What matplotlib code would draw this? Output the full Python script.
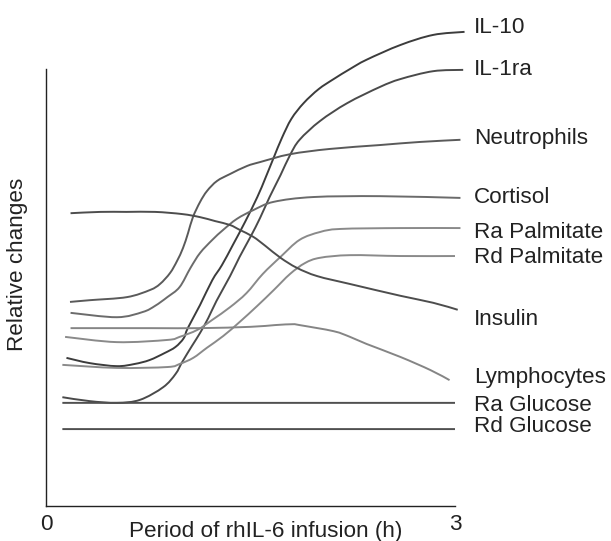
import matplotlib
matplotlib.use("Agg")
import matplotlib.pyplot as plt
from matplotlib.path import Path
from matplotlib.patches import PathPatch

plt.rcParams['font.family'] = ['Liberation Sans', 'DejaVu Sans']

# time (h) and relative change (arbitrary units)
il10_t = [0.15, 0.32, 0.52, 0.65, 0.76, 0.87, 0.95, 1.01, 1.04, 1.13, 1.22, 1.29, 1.37,
          1.46, 1.55, 1.61, 1.67, 1.73, 1.80, 1.89, 2.00, 2.11, 2.23, 2.35, 2.60, 2.84, 3.07]
il10_v = [3.39, 3.27, 3.20, 3.25, 3.34, 3.50, 3.64, 3.84, 4.07, 4.60, 5.17, 5.51, 5.97,
          6.50, 7.07, 7.51, 7.97, 8.42, 8.86, 9.22, 9.54, 9.77, 10.00, 10.21, 10.55, 10.78, 10.85]

il1ra_t = [0.12, 0.32, 0.52, 0.69, 0.86, 0.95, 1.00, 1.07, 1.13, 1.19, 1.25, 1.35, 1.42,
           1.50, 1.57, 1.64, 1.72, 1.79, 1.86, 2.01, 2.21, 2.45, 2.60, 2.84, 3.06]
il1ra_v = [2.49, 2.40, 2.36, 2.43, 2.72, 3.02, 3.30, 3.66, 3.96, 4.30, 4.69, 5.26, 5.70,
           6.16, 6.59, 7.07, 7.57, 8.03, 8.38, 8.81, 9.22, 9.59, 9.77, 9.95, 9.98]

neut_t = [0.176, 0.323, 0.594, 0.763, 0.836, 0.910, 0.961, 1.005, 1.042, 1.078, 1.130,
          1.181, 1.254, 1.350, 1.474, 1.570, 1.790, 2.080, 2.450, 2.740, 3.040]
neut_v = [4.67, 4.71, 4.78, 4.943, 5.080, 5.332, 5.606, 5.904, 6.247, 6.613, 6.957,
          7.208, 7.437, 7.597, 7.780, 7.87, 8.05, 8.17, 8.26, 8.33, 8.38]

cort_t = [0.18, 0.52, 0.71, 0.80, 0.89, 0.98, 1.06, 1.13, 1.22, 1.30, 1.40, 1.52, 1.67,
          1.96, 2.45, 3.04]
cort_v = [4.42, 4.32, 4.44, 4.58, 4.78, 5.01, 5.45, 5.79, 6.09, 6.32, 6.57, 6.77, 6.96,
          7.07, 7.09, 7.05]

rapalm_t = [0.14, 0.52, 0.89, 0.98, 1.11, 1.22, 1.35, 1.47, 1.59, 1.72, 1.86, 2.01, 2.16,
            2.60, 3.04]
rapalm_v = [3.87, 3.75, 3.80, 3.87, 4.03, 4.26, 4.55, 4.87, 5.31, 5.70, 6.09, 6.27, 6.34,
            6.36, 6.36]

rdpalm_t = [0.12, 0.52, 0.89, 0.98, 1.08, 1.18, 1.30, 1.42, 1.55, 1.67, 1.79, 1.90, 2.01,
            2.23, 2.60, 3.00]
rdpalm_v = [3.23, 3.16, 3.18, 3.25, 3.39, 3.62, 3.89, 4.21, 4.58, 4.94, 5.31, 5.56, 5.68,
            5.74, 5.72, 5.72]

insulin_t = [0.18, 0.40, 0.59, 0.80, 1.00, 1.13, 1.24, 1.35, 1.42, 1.52, 1.61, 1.72, 1.84,
             1.99, 2.23, 2.60, 2.84, 3.02]
insulin_v = [6.70, 6.73, 6.73, 6.73, 6.68, 6.61, 6.52, 6.43, 6.32, 6.16, 5.95, 5.68, 5.45,
             5.26, 5.08, 4.81, 4.65, 4.49]

lymph_t = [0.18, 0.76, 1.13, 1.50, 1.68, 1.81, 1.86, 2.11, 2.23, 2.35, 2.60, 2.82, 2.96]
lymph_v = [4.07, 4.07, 4.07, 4.10, 4.14, 4.16, 4.14, 4.00, 3.87, 3.71, 3.41, 3.11, 2.88]

raglu_t = [0.12, 3.00]
raglu_v = [2.36, 2.36]
rdglu_t = [0.12, 3.00]
rdglu_v = [1.76, 1.76]

names = ["IL-10", "IL-1ra", "Neutrophils", "Cortisol", "Ra Palmitate", "Rd Palmitate",
         "Insulin", "Lymphocytes", "Ra Glucose", "Rd Glucose"]
label_y = [10.96, 9.98, 8.40, 7.05, 6.27, 5.68, 4.26, 2.93, 2.29, 1.81]

series = [
    (il10_t, il10_v, "#3c3c3c"),
    (il1ra_t, il1ra_v, "#4a4a4a"),
    (neut_t, neut_v, "#5a5a5a"),
    (cort_t, cort_v, "#6b6b6b"),
    (rapalm_t, rapalm_v, "#8a8a8a"),
    (rdpalm_t, rdpalm_v, "#8a8a8a"),
    (insulin_t, insulin_v, "#4d4d4d"),
    (lymph_t, lymph_v, "#858585"),
    (raglu_t, raglu_v, "#505050"),
    (rdglu_t, rdglu_v, "#505050"),
]


def smooth_path(t, v):
    # cubic bezier through the read points (catmull-rom style handles)
    pts = list(zip(t, v))
    verts = [pts[0]]
    codes = [Path.MOVETO]
    n = len(pts)
    for i in range(n - 1):
        p0 = pts[i - 1] if i > 0 else pts[i]
        p1 = pts[i]
        p2 = pts[i + 1]
        p3 = pts[i + 2] if i + 2 < n else pts[i + 1]
        c1 = (p1[0] + (p2[0] - p0[0]) / 6, p1[1] + (p2[1] - p0[1]) / 6)
        c2 = (p2[0] - (p3[0] - p1[0]) / 6, p2[1] - (p3[1] - p1[1]) / 6)
        verts += [c1, c2, p2]
        codes += [Path.CURVE4] * 3
    return Path(verts, codes)


fig = plt.figure(figsize=(6.11, 5.41), dpi=100)
ax = fig.add_axes([46 / 611, 35 / 541, 409 / 611, 437 / 541])

for (t, v, c) in series:
    patch = PathPatch(smooth_path(t, v), facecolor='none', edgecolor=c, lw=1.4,
                      clip_on=False, capstyle='butt')
    ax.add_patch(patch)

fs = 16.2
for name, y in zip(names, label_y):
    ax.text(3.14, y, name, fontsize=fs, va='center', ha='left', color='#222222')

ax.set_xlim(0, 3)
ax.set_ylim(0, 10)
ax.set_xticks([0, 3])
ax.set_xticklabels(["0", "3"])
ax.set_yticks([])
ax.tick_params(axis='x', length=0, pad=6, labelsize=fs, labelcolor='#222222')
for s in ['top', 'right']:
    ax.spines[s].set_visible(False)
for s in ['left', 'bottom']:
    ax.spines[s].set_linewidth(1.0)
    ax.spines[s].set_color('#222222')

ax.set_xlabel("Period of rhIL-6 infusion (h)", fontsize=fs, color='#222222')
ax.xaxis.set_label_coords((266 - 46) / 409, -(532 - 506) / 437)
ax.xaxis.label.set_va('center')
ax.set_ylabel("Relative changes", fontsize=fs, color='#222222')
ax.yaxis.set_label_coords(-(46 - 17) / 409, (506 - 264) / 437)
ax.yaxis.label.set_va('center')

fig.savefig("out.png", dpi=100)
